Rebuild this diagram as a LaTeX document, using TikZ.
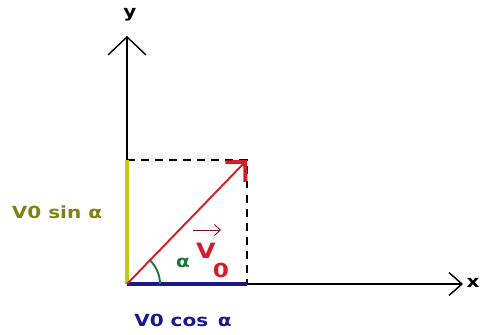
\documentclass[tikz,border=0pt]{standalone}
\usepackage{fontspec}
\newfontfamily\lblfont[FakeStretch=1.2]{DejaVu Sans}
\usetikzlibrary{arrows.meta}
\definecolor{vred}{RGB}{210,30,40}
\definecolor{vblue}{RGB}{25,25,140}
\definecolor{vyellow}{RGB}{200,200,20}
\definecolor{volive}{RGB}{130,130,20}
\definecolor{vgreen}{RGB}{30,120,60}

\begin{document}
\begin{tikzpicture}[x=0.02cm, y=0.02cm,
    axis/.style={line width=0.8pt, black},
    comp/.style={line width=2.2pt},
    guide/.style={line width=0.8pt, dash pattern=on 4.5pt off 3.5pt},
    lbl/.style={font=\lblfont\bfseries\fontsize{9.5}{11}\selectfont, inner sep=0pt}]
    \useasboundingbox (0,0) rectangle (482,334);
    \coordinate (o) at (127,50);
    \coordinate (ytip) at (127,298);
    \coordinate (xtip) at (463,50);
    \coordinate (p) at (247,174);
    \coordinate (px) at (247,50);
    \coordinate (py) at (127,174);
    % axes
    \draw[axis, -{Straight Barb[length=0.36cm, width=0.76cm, line width=0.8pt]}] (o) -- (ytip);
    \draw[axis, -{Straight Barb[length=0.26cm, width=0.46cm, line width=0.8pt]}] (o) -- (xtip);
    \node[lbl] (ylab) at (130,319) {y};
    \node[lbl] (xlab) at (473,51) {x};
    % components
    \draw[guide] (py) -- (p) -- (px);
    \draw[comp, vyellow] (o) -- (py);
    \draw[comp, vblue] (o) -- (px);
    \node[lbl, volive] (vsin) at (57,122) {V0 sin α};
    \node[lbl, vblue] (vcos) at (183,14) {V0 cos\, α};
    % vector and angle
    \draw[vred, line width=1.1pt, -{Straight Barb[length=0.28cm, width=0.56cm, line width=2.2pt]}] (o) -- (p);
    \draw[vgreen, line width=1.1pt] (o) ++(33,0) arc[start angle=0, end angle=45, radius=0.66cm];
    \node[lbl, vgreen] (alpha) at (183,71) {α};
    \node[lbl, vred, font=\lblfont\bfseries\fontsize{12}{14}\selectfont] (v) at (206,83) {V};
    \node[lbl, vred, font=\lblfont\bfseries\fontsize{11}{13}\selectfont] (vsub) at (221,64) {0};
    \draw[vred!60!black, line width=0.5pt, -{Straight Barb[length=0.12cm, width=0.22cm]}] (193,104) -- (221,104);
\end{tikzpicture}
\end{document}
